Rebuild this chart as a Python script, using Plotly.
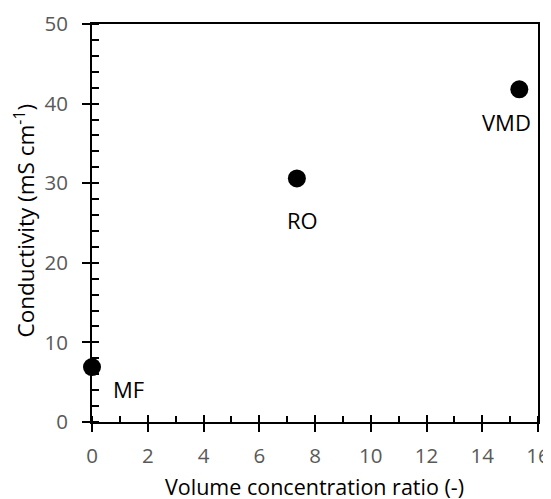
import plotly.graph_objects as go

labels = ["MF", "RO", "VMD"]
vcr = [0.0, 7.35, 15.33]
conductivity = [6.9, 30.6, 41.8]
label_shift_x = [36, 6, -13]
label_shift_y = [-22, -42, -33]

FONT = "Open Sans"
OFF = 8  # page body margin offset
L, R, T, B = 92 - OFF, 13, 24 - OFF, 77
W, H = 551 - OFF, 499 - OFF
PW, PH = W - L - R, H - T - B

fig = go.Figure()
fig.add_trace(go.Scatter(
    x=vcr, y=conductivity, mode="markers",
    marker=dict(color="black", size=18),
    showlegend=False, cliponaxis=False,
))

for lab, x, y, dx, dy in zip(labels, vcr, conductivity, label_shift_x, label_shift_y):
    fig.add_annotation(x=x, y=y, text=lab, showarrow=False,
                       xshift=dx, yshift=dy,
                       font=dict(family=FONT, size=22, color="black"))

# axis titles (target pixel centres minus page offset)
fig.add_annotation(xref="paper", yref="paper", x=(314 - OFF - L) / PW, y=(H - B - (486 - OFF)) / PH,
                   text="Volume concentration ratio (-)", showarrow=False,
                   xanchor="center", yanchor="middle", borderpad=0,
                   font=dict(family=FONT, size=21.5, color="black"))
fig.add_annotation(xref="paper", yref="paper", x=(23.5 - OFF - L) / PW, y=(H - B - (221 - OFF)) / PH,
                   text="Conductivity (mS cm<sup>-1</sup>)", showarrow=False, textangle=-90,
                   xanchor="center", yanchor="middle", borderpad=0,
                   font=dict(family=FONT, size=22.5, color="black"))

# invisible overlay axes to draw the inside part of crossing major ticks
fig.add_trace(go.Scatter(x=[0], y=[0], xaxis="x2", yaxis="y2", mode="markers",
                         marker=dict(opacity=0), showlegend=False, hoverinfo="skip"))

fig.update_layout(
    width=W, height=H,
    margin=dict(l=L, r=R, t=T, b=B),
    paper_bgcolor="white", plot_bgcolor="white",
    font=dict(family=FONT, size=20, color="#595959"),
    xaxis=dict(
        range=[0, 16], dtick=2, tick0=0, automargin=False,
        showgrid=False, zeroline=False,
        showline=True, linecolor="black", linewidth=2, mirror=True,
        ticks="outside", ticklen=8, tickwidth=2, tickcolor="black",
        ticklabelstandoff=6,
        tickfont=dict(family=FONT, size=20.5, color="#595959"),
        minor=dict(ticks="inside", dtick=1, ticklen=6, tickwidth=2, tickcolor="black", showgrid=False),
    ),
    yaxis=dict(
        range=[0, 50], dtick=10, tick0=0, automargin=False,
        showgrid=False, zeroline=False,
        showline=True, linecolor="black", linewidth=2, mirror=True,
        ticks="outside", ticklen=8, tickwidth=2, tickcolor="black",
        ticklabelstandoff=10,
        tickfont=dict(family=FONT, size=20.5, color="#595959"),
        minor=dict(ticks="inside", dtick=2, ticklen=7, tickwidth=2, tickcolor="black", showgrid=False),
    ),
    xaxis2=dict(range=[0, 16], overlaying="x", dtick=2, tick0=0, ticks="inside",
                ticklen=7, tickwidth=2, tickcolor="black", showticklabels=False,
                showgrid=False, zeroline=False, showline=False, automargin=False),
    yaxis2=dict(range=[0, 50], overlaying="y", dtick=10, tick0=0, ticks="inside",
                ticklen=7, tickwidth=2, tickcolor="black", showticklabels=False,
                showgrid=False, zeroline=False, showline=False, automargin=False),
)

fig.write_html("out.html")
